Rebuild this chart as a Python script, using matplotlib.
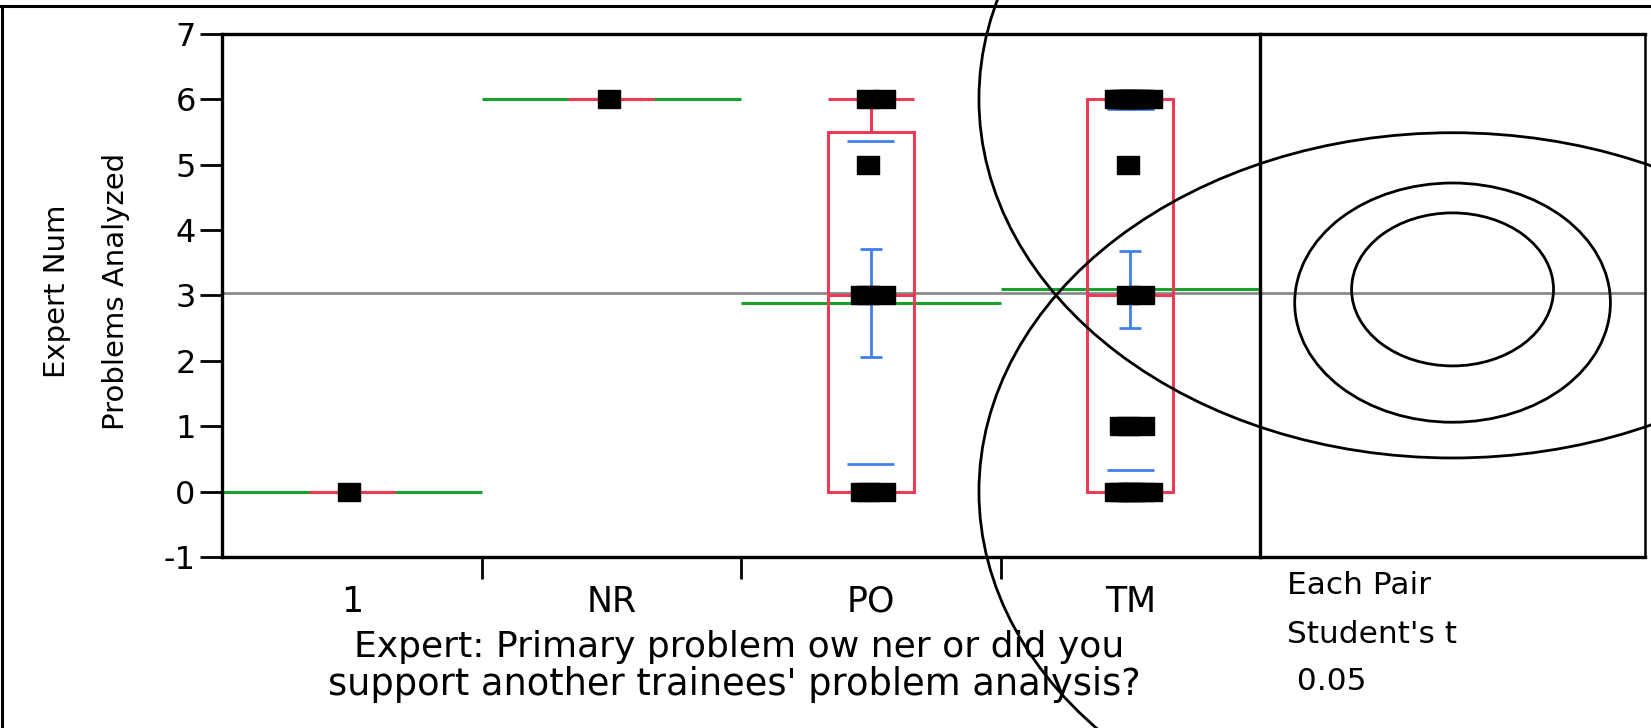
import numpy as np
import matplotlib
matplotlib.use("Agg")
import matplotlib.pyplot as plt
from matplotlib.patches import Rectangle, Ellipse
from matplotlib.lines import Line2D

# Expert role groups and number of problems analyzed per person
groups = ["1", "NR", "PO", "TM"]
grp_1 = [0]
grp_nr = [6]
grp_po = [0, 0, 0, 3, 3, 3, 5, 6, 6]
grp_tm = [0, 0, 0, 0, 0, 0, 0, 1, 1, 1, 3, 3, 5, 6, 6, 6, 6, 6, 6, 6, 6, 6]
group_values = [grp_1, grp_nr, grp_po, grp_tm]

y_ticks = [-1, 0, 1, 2, 3, 4, 5, 6, 7]
alpha_text = "0.05"
t_crit = 2.045  # Student's t 0.975 quantile, df = 29

RED = "#ec3b59"
BLUE = "#3f80ee"
GREEN = "#17a02c"
GRAY = "#8a8a8a"

plt.rcParams["font.family"] = ["DejaVu Sans"]


def quantile_np1(v, p):
    # quantile with the (n+1)p position rule
    v = sorted(v)
    n = len(v)
    pos = p * (n + 1)
    if pos <= 1:
        return v[0]
    if pos >= n:
        return v[-1]
    lo = int(np.floor(pos))
    frac = pos - lo
    return v[lo - 1] + frac * (v[lo] - v[lo - 1])


fig = plt.figure(figsize=(16.51, 7.28), dpi=100)

ax = fig.add_axes([0.1345, 0.2349, 0.6287, 0.7188])
ax.set_xlim(0, 4)
ax.set_ylim(-1, 7)
ax.set_yticks(y_ticks)
ax.set_yticklabels([str(t) for t in y_ticks])
ax.tick_params(axis="y", direction="out", length=16, width=2, labelsize=23, pad=3)
ax.set_xticks([1, 2, 3])
ax.set_xticks([0.5, 1.5, 2.5, 3.5], minor=True)
ax.set_xticklabels(groups, minor=True)
ax.tick_params(axis="x", which="major", direction="out", length=16, width=2, labelbottom=False)
ax.tick_params(axis="x", which="minor", length=0, labelsize=25, pad=20)
for s in ["left", "top", "bottom"]:
    ax.spines[s].set_linewidth(2.4)
ax.spines["right"].set_visible(False)

all_vals = np.concatenate([np.array(g, float) for g in group_values])
grand_mean = all_vals.mean()
ax.axhline(grand_mean, color=GRAY, lw=2, zorder=1)

# pooled standard deviation for the comparison circles
ss = sum(((np.array(g, float) - np.mean(g)) ** 2).sum() for g in group_values)
dfe = len(all_vals) - len(group_values)
s_pooled = np.sqrt(ss / dfe)

box_w = 0.33
sd_w = 0.18
jitter = [-0.01, 0.05, -0.035, 0.015, -0.055, 0.08, 0.0, -0.02, 0.035]
rect_marker = [(-1, -0.77), (1, -0.77), (1, 0.77), (-1, 0.77), (-1, -0.77)]

for i, vals in enumerate(group_values):
    v = np.array(vals, float)
    n = len(v)
    cx = i + 0.5
    mean = v.mean()

    # group mean across the whole category
    ax.hlines(mean, i, i + 1, color=GREEN, lw=2.2, zorder=2)

    # outlier box plot
    q1 = quantile_np1(v, 0.25)
    med = quantile_np1(v, 0.5)
    q3 = quantile_np1(v, 0.75)
    iqr = q3 - q1
    hi = v[v <= q3 + 1.5 * iqr].max()
    lo = v[v >= q1 - 1.5 * iqr].min()
    ax.add_patch(Rectangle((cx - box_w / 2, q1), box_w, q3 - q1, fill=False,
                           ec=RED, lw=2.2, zorder=3))
    ax.hlines(med, cx - box_w / 2, cx + box_w / 2, color=RED, lw=2.2, zorder=3)
    if hi > q3:
        ax.vlines(cx, q3, hi, color=RED, lw=2.2, zorder=3)
        ax.hlines(hi, cx - box_w / 2, cx + box_w / 2, color=RED, lw=2.2, zorder=3)
    if lo < q1:
        ax.vlines(cx, lo, q1, color=RED, lw=2.2, zorder=3)
        ax.hlines(lo, cx - box_w / 2, cx + box_w / 2, color=RED, lw=2.2, zorder=3)

    # std dev lines and std error bars
    if n > 1:
        sd = v.std(ddof=1)
        se = sd / np.sqrt(n)
        ax.hlines([mean - sd, mean + sd], cx - sd_w / 2, cx + sd_w / 2,
                  color=BLUE, lw=2, zorder=4)
        ax.errorbar(cx, mean, yerr=se, fmt="none", ecolor=BLUE, elinewidth=2,
                    capsize=8, capthick=2, zorder=4)

    # jittered points
    xs, ys = [], []
    for val in np.unique(v):
        k = int((v == val).sum())
        for j in range(k):
            xs.append(cx + jitter[j % len(jitter)])
            ys.append(val)
    ax.plot(xs, ys, ls="none", marker=rect_marker, ms=16, color="black", zorder=5)

# comparison circles panel
pax = fig.add_axes([0.7632, 0.2349, 0.2332, 0.7188])
pax.set_xlim(-2.23, 2.23)
pax.set_ylim(-1, 7)
pax.set_xticks([])
pax.set_yticks([])
for s in ["left", "top", "bottom"]:
    pax.spines[s].set_linewidth(2.4)
pax.spines["right"].set_linewidth(1.8)
pax.axhline(grand_mean, color=GRAY, lw=2, zorder=1)
for vals in group_values:
    r = t_crit * s_pooled / np.sqrt(len(vals))
    pax.add_patch(Ellipse((0, np.mean(vals)), 2 * r, 2 * r, fill=False,
                          ec="black", lw=2, clip_on=False, zorder=6))

# axis titles
fig.text(0.0345, 0.6003, "Expert Num", rotation=90, ha="center", va="center", fontsize=21)
fig.text(0.0705, 0.6003, "Problems Analyzed", rotation=90, ha="center", va="center", fontsize=21)
fig.text(0.4476, 0.0975, "Expert: Primary problem ow ner or did you",
         ha="center", va="baseline", fontsize=26)
fig.text(0.4446, 0.0447, "support another trainees' problem analysis?",
         ha="center", va="baseline", fontsize=26.5)

fig.text(0.7795, 0.1841, "Each Pair", ha="left", va="baseline", fontsize=22.5)
fig.text(0.7795, 0.1168, "Student's t", ha="left", va="baseline", fontsize=22.5)
fig.text(0.7795, 0.0522, " " + alpha_text, ha="left", va="baseline", fontsize=22.5)

# outer frame edges
fig.add_artist(Line2D([0, 1], [0.9918, 0.9918], transform=fig.transFigure, color="black", lw=2.2))
fig.add_artist(Line2D([0.0012, 0.0012], [0, 0.9918], transform=fig.transFigure, color="black", lw=2.2))

fig.savefig("out.png", dpi=100)
